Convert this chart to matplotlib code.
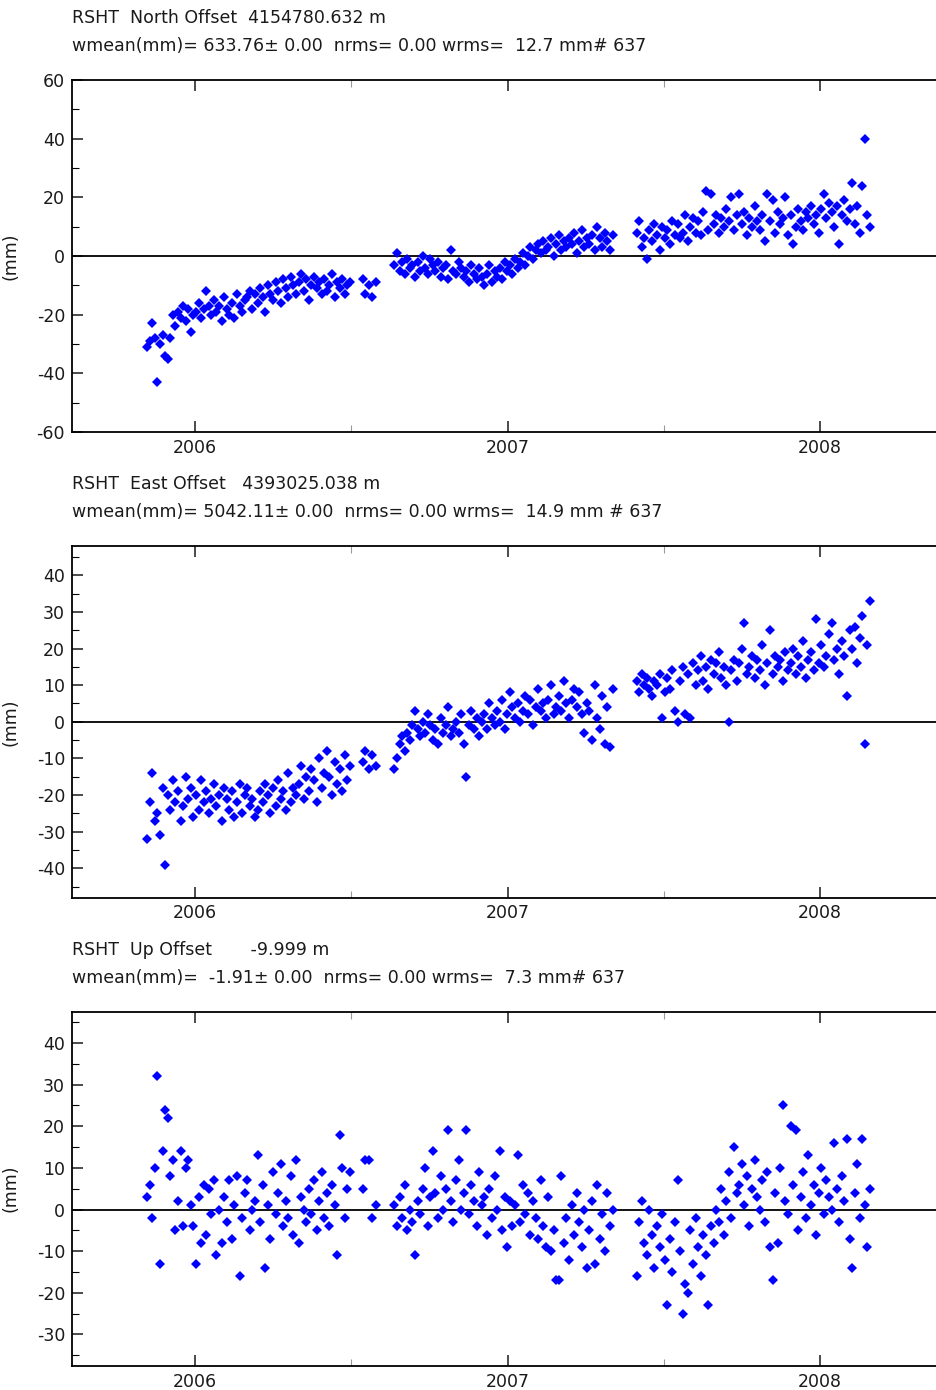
import matplotlib
matplotlib.use("Agg")
import matplotlib.pyplot as plt
from matplotlib.ticker import MultipleLocator, FixedLocator
import numpy as np

plt.rcParams["axes.unicode_minus"] = False

# Epochs: days relative to 2006-01-01 (shared by all three components)
epoch_days = [
    -56, -53, -50, -47, -44, -41, -38,
    -35, -32,
    -29, -26, -23,
    -20, -17, -14, -11,
    -8, -5, -2,
    1, 4, 7, 10,
    13, 16, 19, 22,
    25, 28, 31, 34,
    37, 40, 43, 46,
    49, 52, 55, 58,
    61, 64, 67, 70,
    73, 76, 79, 82,
    85, 88, 91, 94,
    97, 100, 103, 106,
    109, 112, 115, 118,
    121, 124, 127, 130,
    133, 136, 139, 142,
    145, 148, 151, 154,
    157, 160, 163, 166,
    169, 172, 175, 178, 181,
    # sparse
    196, 199, 203, 207, 211,
    # segment B
    233, 236, 239, 242,
    245, 248, 251, 254,
    257, 260, 263, 266,
    269, 272, 275, 278,
    281, 284, 287, 290,
    293, 296, 299, 302,
    305, 308, 311, 314,
    317, 320, 323, 326,
    329, 332, 335, 338,
    341, 344, 347, 350,
    353, 356, 359, 362,
    365, 368, 371, 374,
    377, 380, 383, 386,
    389, 392, 395, 398,
    401, 404, 407, 410,
    413, 416, 419, 422,
    425, 428, 431, 434,
    437, 440, 443, 446,
    449, 452, 455, 458,
    461, 464, 467, 470,
    473, 476, 479, 482,
    485, 488,
    # segment C
    516, 519, 522, 525,
    528, 531, 534, 537,
    540, 543, 546, 549,
    552, 555, 558, 561,
    564, 567, 570, 573,
    576, 579, 582, 585,
    588, 591, 594, 597,
    600, 603, 606, 609,
    612, 615, 618, 621,
    624, 627, 630, 633,
    636, 639, 642, 645,
    648, 651, 654, 657,
    660, 663, 666, 669,
    672, 675, 678, 681,
    684, 687, 690, 693,
    696, 699, 702, 705,
    708, 711, 714, 717,
    720, 723, 726, 729,
    732, 735, 738, 741,
    744, 747, 750, 753,
    756, 759, 762, 765,
    768, 771, 774, 777,
    780, 783, 786, 789,
]

north_mm = [
    -31, -29, -23, -28, -43, -30, -27,
    -34, -35,
    -28, -20, -24,
    -19, -21, -17, -22,
    -18, -26, -20,
    -19, -16, -21, -18,
    -12, -17, -20, -15,
    -19, -17, -22, -14,
    -18, -20, -16, -21,
    -13, -17, -19, -15,
    -14, -12, -18, -13,
    -16, -11, -14, -19,
    -10, -13, -15, -9,
    -12, -16, -8, -11,
    -14, -7, -10, -13,
    -9, -6, -12, -8,
    -15, -10, -7, -11,
    -9, -13, -8, -12,
    -10, -6, -14, -9,
    -11, -8, -13, -10, -9,
    -8, -13, -10, -14, -9,
    -3, 1, -5, -2,
    -6, -1, -4, -3,
    -7, -2, -5, 0,
    -4, -6, -1, -3,
    -5, -2, -7, -4,
    -3, -8, 2, -5,
    -6, -2, -4, -7,
    -5, -9, -3, -6,
    -8, -4, -7, -10,
    -6, -3, -9, -5,
    -7, -4, -8, -2,
    -5, -3, -6, -1,
    -4, -2, 1, -3,
    0, 3, -1, 2,
    4, 1, 5, 2,
    3, 6, 0, 4,
    7, 2, 5, 3,
    6, 4, 8, 1,
    5, 9, 3, 6,
    4, 7, 2, 10,
    6, 3, 8, 5,
    2, 7,
    8, 12, 3, 6,
    -1, 9, 5, 11,
    7, 2, 10, 6,
    9, 4, 12, 7,
    11, 6, 8, 14,
    5, 10, 13, 8,
    12, 7, 15, 22,
    9, 21, 11, 14,
    8, 13, 10, 16,
    12, 20, 9, 14,
    21, 11, 15, 7,
    13, 10, 17, 12,
    9, 14, 5, 21,
    12, 19, 8, 15,
    11, 13, 20, 7,
    14, 4, 10, 16,
    12, 9, 15, 13,
    17, 11, 14, 8,
    16, 21, 13, 18,
    15, 10, 17, 4,
    14, 19, 12, 16,
    25, 11, 17, 8,
    24, 40, 14, 10,
]

east_mm = [
    -32, -22, -14, -27, -25, -31, -18,
    -39, -20,
    -24, -16, -22,
    -19, -27, -23, -15,
    -21, -18, -26,
    -20, -24, -16, -22,
    -19, -25, -21, -17,
    -23, -20, -27, -18,
    -21, -24, -19, -26,
    -22, -17, -25, -20,
    -18, -23, -21, -26,
    -24, -19, -22, -17,
    -20, -25, -18, -23,
    -16, -21, -19, -24,
    -14, -22, -18, -20,
    -17, -12, -21, -15,
    -19, -13, -16, -22,
    -10, -18, -14, -8,
    -15, -20, -11, -17,
    -13, -19, -9, -16, -12,
    -11, -8, -13, -9, -12,
    -13, -10, -6, -4,
    -8, -3, -5, -1,
    3, -2, -4, 0,
    -3, 2, -1, -5,
    -2, -6, 1, -3,
    -1, 4, -4, -2,
    0, -3, 2, -6,
    -15, -1, 3, -2,
    1, -4, 0, 2,
    -2, 5, 1, -1,
    3, 0, 6, -2,
    2, 8, 4, 1,
    5, 0, 3, 7,
    2, 6, -1, 4,
    9, 3, 5, 1,
    6, 10, 2, 4,
    7, 3, 11, 5,
    1, 6, 9, 4,
    8, 2, -3, 5,
    3, -5, 10, 1,
    -2, 7, -6, 4,
    -7, 9,
    11, 8, 13, 10,
    12, 9, 7, 11,
    10, 13, 1, 8,
    12, 9, 14, 3,
    0, 11, 15, 2,
    13, 1, 16, 10,
    14, 18, 11, 15,
    9, 17, 13, 16,
    19, 12, 15, 10,
    0, 14, 17, 11,
    16, 20, 27, 13,
    15, 18, 12, 17,
    14, 21, 10, 16,
    25, 13, 18, 15,
    17, 11, 19, 14,
    16, 20, 13, 18,
    15, 22, 12, 17,
    19, 14, 28, 16,
    21, 15, 18, 24,
    27, 17, 20, 13,
    22, 18, 7, 25,
    20, 26, 16, 23,
    29, -6, 21, 33,
]

up_mm = [
    3, 6, -2, 10, 32, -13, 14,
    24, 22,
    8, 12, -5,
    2, 14, -4, 10,
    12, 1, -4,
    -13, 3, -8, 6,
    -6, 5, -1, 7,
    -11, 0, -8, 3,
    -3, 7, -7, 1,
    8, -16, -2, 4,
    7, -5, 0, 2,
    13, -3, 6, -14,
    1, -7, 9, -1,
    4, 11, -4, 2,
    -2, 8, -6, 12,
    -8, 3, 0, -3,
    5, -1, 7, -5,
    2, 9, -2, 4,
    -4, 6, 1, -11,
    18, 10, -2, 5, 9,
    5, 12, 12, -2, 1,
    1, -4, 3, -2,
    6, -5, 0, -3,
    -11, 2, -1, 5,
    10, -4, 3, 14,
    4, -2, 8, 0,
    5, 19, 2, -3,
    7, 12, 0, 4,
    19, -1, 6, 2,
    -4, 9, 1, 3,
    -6, 5, -2, 8,
    0, 14, -5, 3,
    -9, 2, -4, 1,
    13, -3, 6, -1,
    4, -6, 2, -2,
    -7, 7, -4, -9,
    3, -10, -5, -17,
    -17, 8, -8, -2,
    -12, 1, -6, 4,
    -3, -9, 0, -14,
    -5, 2, -13, 6,
    -7, -1, -10, 4,
    -4, 0,
    -16, -3, 2, -8,
    -11, 0, -6, -14,
    -4, -9, -1, -12,
    -23, -7, -15, -3,
    7, -10, -25, -18,
    -20, -5, -13, -2,
    -9, -16, -6, -11,
    -23, -4, -8, 0,
    -3, 5, -6, 2,
    9, -2, 15, 4,
    6, 11, 1, 8,
    -4, 5, 12, 3,
    0, 7, -3, 9,
    -9, -17, 4, -8,
    10, 25, 2, -1,
    20, 6, 19, -5,
    3, 9, -2, 13,
    1, 6, -6, 4,
    10, -1, 7, 3,
    0, 16, 5, -3,
    8, 2, 17, -7,
    -14, 4, 11, -2,
    17, 1, -9, 5,
]

titles = [
    ("RSHT  North Offset  4154780.632 m",
     "wmean(mm)= 633.76\u00b1 0.00  nrms= 0.00 wrms=  12.7 mm# 637"),
    ("RSHT  East Offset   4393025.038 m",
     "wmean(mm)= 5042.11\u00b1 0.00  nrms= 0.00 wrms=  14.9 mm # 637"),
    ("RSHT  Up Offset       -9.999 m",
     "wmean(mm)=  -1.91\u00b1 0.00  nrms= 0.00 wrms=  7.3 mm# 637"),
]
series = [north_mm, east_mm, up_mm]
ylims = [(-60, 60), (-48, 48), (-37.5, 47.5)]
ymajor = [20, 10, 10]
yminor = [10, 5, 5]
year_ticks = [2006, 2007, 2008]
half_year_ticks = [2006.5, 2007.5]
xlim = (2005.606, 2008.40)

W, H = 937, 1390
fig = plt.figure(figsize=(W / 100, H / 100), dpi=100)
fig.patch.set_facecolor("white")

# axes boxes in pixels: (left, top, right, bottom)
boxes = [(72, 80, 945, 432), (72, 546, 945, 897.5), (72, 1011.7, 945, 1365.7)]

t_years = 2006 + np.array(epoch_days) / 365.25

for i, (box, vals) in enumerate(zip(boxes, series)):
    l, t, r, b = box
    ax = fig.add_axes([l / W, 1 - b / H, (r - l) / W, (b - t) / H])
    ax.plot(t_years, vals, linestyle="none", marker="D", markersize=5.2,
            color="#0000ff", markeredgewidth=0, zorder=3)
    ax.axhline(0, color="black", linewidth=1.3, zorder=2)
    ax.set_xlim(*xlim)
    ax.set_ylim(*ylims[i])
    ax.xaxis.set_major_locator(FixedLocator(year_ticks))
    ax.xaxis.set_minor_locator(FixedLocator(half_year_ticks))
    ax.set_xticklabels([str(y) for y in year_ticks])
    ax.yaxis.set_major_locator(MultipleLocator(ymajor[i]))
    ax.yaxis.set_minor_locator(MultipleLocator(yminor[i]))
    ax.tick_params(axis="both", which="major", direction="in", length=8,
                   width=1.1, labelsize=12.5, top=True, right=False,
                   pad=5, colors="#1a1a1a")
    ax.tick_params(axis="both", which="minor", direction="in", length=5,
                   width=0.8, top=True, right=False)
    ax.tick_params(axis="x", which="minor", colors="#999999")
    for s in ["top", "bottom", "left"]:
        ax.spines[s].set_linewidth(1.3)
    ax.spines["right"].set_visible(False)
    ax.set_ylabel("(mm)", fontsize=12.5, color="#1a1a1a")
    ax.yaxis.set_label_coords(-0.060, 0.5)
    fig.text(72 / W, 1 - (t - 62) / H, titles[i][0], fontsize=12.5,
             va="center", ha="left", color="#1a1a1a")
    fig.text(72 / W, 1 - (t - 34) / H, titles[i][1], fontsize=12.5,
             va="center", ha="left", color="#1a1a1a")

fig.savefig("out.png", dpi=100, facecolor="white")
